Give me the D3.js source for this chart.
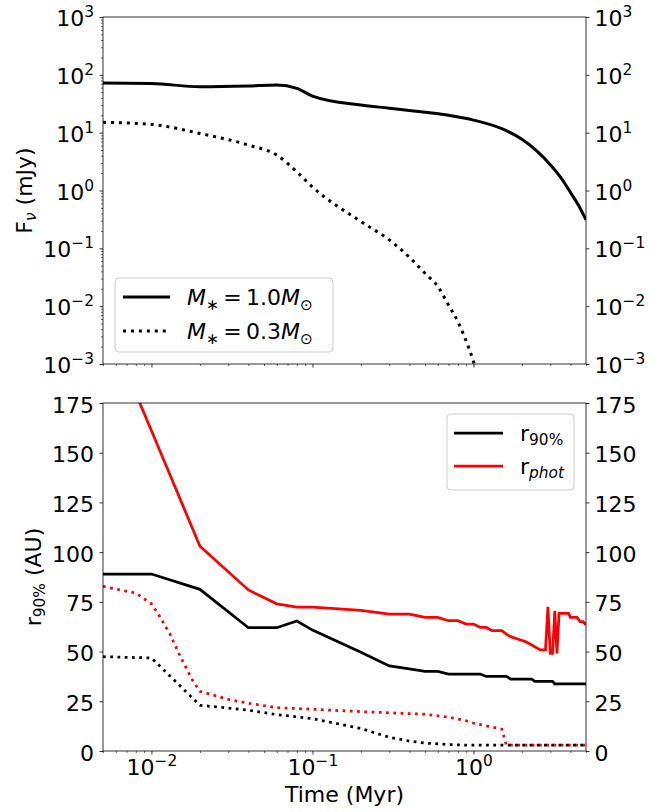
<!DOCTYPE html>
<html>
<head>
<meta charset="utf-8">
<script src="https://cdn.jsdelivr.net/npm/d3@7"></script>
<style>
  html, body { margin: 0; padding: 0; background: #fff; }
  svg { display: block; font-family: "DejaVu Sans", sans-serif; }
</style>
</head>
<body>
<svg id="chart" width="670" height="812"></svg>
<script>
// ---- data -------------------------------------------------------------
// Flux density (mJy) vs time (Myr)
const fluxTimeSolid = [0.005, 0.01, 0.02, 0.04, 0.06, 0.08, 0.1, 0.2, 0.3, 0.5, 0.7, 1.0, 1.5, 2.0, 2.5, 3.0, 3.5, 4.0, 4.5, 5.0];
const fluxSolar     = [72, 71, 62, 64, 66.5, 58.3, 43, 30, 26.5, 22.5, 20, 16.5, 11.7, 7.7, 4.7, 2.8, 1.65, 0.93, 0.55, 0.31];

const fluxTimeDotted = [0.005, 0.01, 0.02, 0.04, 0.06, 0.08, 0.1, 0.2, 0.3, 0.4, 0.5, 0.6, 0.7, 0.8, 0.9, 1.0, 1.1];
const fluxLowMass    = [15.1, 13.9, 9.7, 6.1, 4.1, 2.1, 1.15, 0.29, 0.14, 0.07, 0.037, 0.022, 0.0105, 0.0054, 0.0025, 0.0011, 0.0004];

// Disc radii (AU) vs time (Myr), M* = 1.0 Msun
const r90TimeSolar = [0.005, 0.01, 0.02, 0.04, 0.06, 0.08, 0.1, 0.2, 0.3, 0.4, 0.5, 0.6, 0.7, 1.1, 1.2, 1.6, 1.7, 2.3, 2.4, 3.1, 3.2, 5.0];
const r90Solar     = [89, 89, 81.3, 62, 62, 65.4, 60.8, 49.6, 42.8, 41.3, 40, 40, 38.7, 38.7, 37.5, 37.5, 36.2, 36.2, 35, 35, 33.7, 33.7];

const rphotTimeSolar = [0.005, 0.01, 0.02, 0.04, 0.06, 0.08, 0.1, 0.2, 0.3, 0.4, 0.5, 0.6, 0.7, 0.8, 0.9, 1.0, 1.1, 1.2, 1.3, 1.5, 1.6, 1.7, 1.9, 2.1, 2.3, 2.5, 2.6, 2.8, 2.9, 3.0, 3.1, 3.2, 3.3, 3.4, 3.9, 4.0, 4.4, 4.6, 4.8, 5.0];
const rphotSolar     = [219, 161, 103, 81, 74, 72.3, 72.3, 70.7, 68.8, 68.8, 67.2, 67.2, 65.5, 65.5, 63.8, 63.8, 62.2, 62.2, 60.5, 60.5, 58.8, 57.5, 56.2, 55, 53.3, 51.6, 50.8, 50.8, 72.5, 49.1, 49.1, 70.5, 49.1, 69.2, 69.2, 67.2, 67.2, 65, 65, 63.4];

// Disc radii (AU) vs time (Myr), M* = 0.3 Msun
const r90TimeLow = [0.005, 0.01, 0.02, 0.04, 0.06, 0.1, 0.2, 0.3, 0.4, 0.5, 0.7, 1.0, 5.0];
const r90Low     = [47.4, 46.8, 23, 20.5, 18.3, 16.3, 11.3, 6.9, 5.0, 4.0, 3.2, 2.9, 2.9];

const rphotTimeLow = [0.005, 0.008, 0.01, 0.011, 0.013, 0.015, 0.018, 0.02, 0.03, 0.04, 0.06, 0.1, 0.2, 0.35, 0.5, 0.7, 0.9, 1.0, 1.5, 1.6, 5.0];
const rphotLow     = [82.8, 79.4, 74, 69, 59, 48, 35.5, 30, 26, 24, 21.8, 21, 19.8, 19, 18.5, 17, 15.2, 14, 11, 2.9, 2.9];

// Tick values
const fluxTicks   = [1e-3, 1e-2, 1e-1, 1e0, 1e1, 1e2, 1e3];
const radiusTicks = [0, 25, 50, 75, 100, 125, 150, 175];
const timeTicks   = [1e-2, 1e-1, 1e0];

// ---- layout -----------------------------------------------------------
const svg = d3.select("#chart");
const L = 103, R = 586;
const topY0 = 17, topY1 = 364;
const botY0 = 403, botY1 = 751;
const FS = 22, SUP = 15.4;

const x = d3.scaleLog().domain([0.005, 5]).range([L, R]);
const yF = d3.scaleLog().domain([1e-3, 1e3]).range([topY1, topY0]);
const yR = d3.scaleLinear().domain([0, 175]).range([botY1, botY0]);

const minorLog = (lo, hi, dom) => {
  const out = [];
  for (let e = lo; e <= hi; e++) for (let m = 2; m <= 9; m++) {
    const v = m * Math.pow(10, e);
    if (v >= dom[0] && v <= dom[1]) out.push(v);
  }
  return out;
};
const timeMinor = minorLog(-3, 0, x.domain());
const fluxMinor = minorLog(-3, 2, yF.domain());

function powerLabels(sel, baseY, y) {
  sel.selectAll(".tick text").each(function (d) {
    const t = d3.select(this);
    const e = Math.round(Math.log10(d));
    t.text(null).attr("dy", null).attr("y", y).attr("font-size", FS).attr("font-family", "DejaVu Sans").attr("fill", "#000");
    t.append("tspan").text("10");
    t.append("tspan").attr("font-size", SUP).attr("dy", -9).text(e < 0 ? "\u2212" + (-e) : String(e));
  });
}
function plainLabels(sel, y) {
  sel.selectAll(".tick text").attr("dy", null).attr("y", y)
    .attr("font-size", FS).attr("font-family", "DejaVu Sans").attr("fill", "#000");
}
function styleAxis(sel, w) {
  sel.select(".domain").remove();
  sel.selectAll(".tick line").attr("stroke", "#000").attr("stroke-width", w);
}

// clip regions
const defs = svg.append("defs");
defs.append("clipPath").attr("id", "clipTop").append("rect")
  .attr("x", L).attr("y", topY0).attr("width", R - L).attr("height", topY1 - topY0);
defs.append("clipPath").attr("id", "clipBot").append("rect")
  .attr("x", L).attr("y", botY0).attr("width", R - L).attr("height", botY1 - botY0);

// ---- top panel: flux --------------------------------------------------
const gTop = svg.append("g");

// left axis (labelled, with minor ticks)
gTop.append("g").attr("transform", `translate(${L},0)`)
  .call(d3.axisLeft(yF).tickValues(fluxMinor).tickSize(2).tickFormat(""))
  .call(g => styleAxis(g, 0.6));
gTop.append("g").attr("transform", `translate(${L},0)`)
  .call(d3.axisLeft(yF).tickValues(fluxTicks).tickSize(3.5).tickPadding(5.5))
  .call(g => styleAxis(g, 0.8))
  .call(g => powerLabels(g, 0, 8.5));
// right axis (major only)
gTop.append("g").attr("transform", `translate(${R},0)`)
  .call(d3.axisRight(yF).tickValues(fluxTicks).tickSize(3.5).tickPadding(5))
  .call(g => styleAxis(g, 0.8))
  .call(g => powerLabels(g, 0, 8.5));
// bottom axis, ticks only
gTop.append("g").attr("transform", `translate(0,${topY1})`)
  .call(d3.axisBottom(x).tickValues(timeMinor).tickSize(2).tickFormat(""))
  .call(g => styleAxis(g, 0.6));
gTop.append("g").attr("transform", `translate(0,${topY1})`)
  .call(d3.axisBottom(x).tickValues(timeTicks).tickSize(3.5).tickFormat(""))
  .call(g => styleAxis(g, 0.8));

const lineF = d3.line().x(d => x(d[0])).y(d => yF(d[1])).curve(d3.curveMonotoneX);
const plotTop = gTop.append("g").attr("clip-path", "url(#clipTop)");
plotTop.append("path")
  .datum(d3.zip(fluxTimeSolid, fluxSolar))
  .attr("d", lineF).attr("fill", "none").attr("stroke", "#000").attr("stroke-width", 3);
plotTop.append("path")
  .datum(d3.zip(fluxTimeDotted, fluxLowMass))
  .attr("d", lineF).attr("fill", "none").attr("stroke", "#000").attr("stroke-width", 3)
  .attr("stroke-dasharray", "3,4.95");

gTop.append("rect").attr("x", L).attr("y", topY0).attr("width", R - L).attr("height", topY1 - topY0)
  .attr("fill", "none").attr("stroke", "#000").attr("stroke-width", 0.8);

// y label
gTop.append("text")
  .attr("transform", `translate(32,${(topY0 + topY1) / 2}) rotate(-90)`)
  .attr("text-anchor", "middle").attr("font-size", FS)
  .call(t => {
    t.append("tspan").text("F");
    t.append("tspan").attr("font-size", SUP).attr("font-style", "italic").attr("dy", 4).text("\u03bd");
    t.append("tspan").attr("dy", -4).text(" (mJy)");
  });

// legend
const legTop = gTop.append("g");
legTop.append("rect").attr("x", 115).attr("y", 278).attr("width", 218).attr("height", 74)
  .attr("rx", 4).attr("fill", "#fff").attr("fill-opacity", 0.8)
  .attr("stroke", "#ccc").attr("stroke-width", 1);
const legRows = [{ y: 297, dash: null, mass: "1.0" }, { y: 331, dash: "3,4.95", mass: "0.3" }];
legRows.forEach(r => {
  legTop.append("line").attr("x1", 123).attr("x2", 170).attr("y1", r.y).attr("y2", r.y)
    .attr("stroke", "#000").attr("stroke-width", 3).attr("stroke-dasharray", r.dash);
  const t = legTop.append("text").attr("x", 187).attr("y", r.y + 8).attr("font-size", FS);
  t.append("tspan").attr("font-style", "italic").text("M");
  t.append("tspan").attr("font-size", SUP).attr("dy", 5).text("\u2217");
  t.append("tspan").attr("dy", -5).text("\u2009=\u2009" + r.mass);
  t.append("tspan").attr("font-style", "italic").text("M");
  t.append("tspan").attr("font-size", SUP).attr("dy", 5).text("\u2299");
});

// ---- bottom panel: radii ----------------------------------------------
const gBot = svg.append("g");
gBot.append("g").attr("transform", `translate(${L},0)`)
  .call(d3.axisLeft(yR).tickValues(radiusTicks).tickSize(3.5).tickPadding(5.5))
  .call(g => styleAxis(g, 0.8))
  .call(g => plainLabels(g, 9));
gBot.append("g").attr("transform", `translate(${R},0)`)
  .call(d3.axisRight(yR).tickValues(radiusTicks).tickSize(3.5).tickPadding(5))
  .call(g => styleAxis(g, 0.8))
  .call(g => plainLabels(g, 9));
gBot.append("g").attr("transform", `translate(0,${botY1})`)
  .call(d3.axisBottom(x).tickValues(timeMinor).tickSize(2).tickFormat(""))
  .call(g => styleAxis(g, 0.6));
gBot.append("g").attr("transform", `translate(0,${botY1})`)
  .call(d3.axisBottom(x).tickValues(timeTicks).tickSize(3.5))
  .call(g => styleAxis(g, 0.8))
  .call(g => {
    g.selectAll(".tick text").attr("text-anchor", "middle");
    powerLabels(g, 0, 24);
  });

const lineR = d3.line().x(d => x(d[0])).y(d => yR(d[1]));
const plotBot = gBot.append("g").attr("clip-path", "url(#clipBot)");
const radiusSeries = [
  { t: rphotTimeLow, v: rphotLow, color: "#ff0000", dash: "2.75,4.5" },
  { t: r90TimeLow, v: r90Low, color: "#000", dash: "2.75,4.5" },
  { t: r90TimeSolar, v: r90Solar, color: "#000", dash: null },
  { t: rphotTimeSolar, v: rphotSolar, color: "#ff0000", dash: null }
];
radiusSeries.forEach(s => {
  plotBot.append("path").datum(d3.zip(s.t, s.v))
    .attr("d", lineR).attr("fill", "none").attr("stroke", s.color)
    .attr("stroke-width", 2.75).attr("stroke-dasharray", s.dash);
});

gBot.append("rect").attr("x", L).attr("y", botY0).attr("width", R - L).attr("height", botY1 - botY0)
  .attr("fill", "none").attr("stroke", "#000").attr("stroke-width", 0.8);

// y label
gBot.append("text")
  .attr("transform", `translate(41,${(botY0 + botY1) / 2}) rotate(-90)`)
  .attr("text-anchor", "middle").attr("font-size", FS)
  .call(t => {
    t.append("tspan").text("r");
    t.append("tspan").attr("font-size", SUP).attr("dy", 4).text("90%");
    t.append("tspan").attr("dy", -4).text(" (AU)");
  });

// x label
gBot.append("text").attr("x", (L + R) / 2).attr("y", 802)
  .attr("text-anchor", "middle").attr("font-size", FS).text("Time (Myr)");

// legend
const legBot = gBot.append("g");
legBot.append("rect").attr("x", 447).attr("y", 414).attr("width", 127).attr("height", 76)
  .attr("rx", 4).attr("fill", "#fff").attr("fill-opacity", 0.8)
  .attr("stroke", "#ccc").attr("stroke-width", 1);
[{ y: 433, color: "#000", sub: "90%", italic: false }, { y: 466, color: "#ff0000", sub: "phot", italic: true }]
  .forEach(r => {
    legBot.append("line").attr("x1", 454).attr("x2", 503).attr("y1", r.y).attr("y2", r.y)
      .attr("stroke", r.color).attr("stroke-width", 2.75);
    const t = legBot.append("text").attr("x", 520).attr("y", r.y + 8).attr("font-size", FS);
    t.append("tspan").text("r");
    t.append("tspan").attr("font-size", SUP).attr("dy", 4)
      .attr("font-style", r.italic ? "italic" : null).text(r.sub);
  });
</script>
</body>
</html>
